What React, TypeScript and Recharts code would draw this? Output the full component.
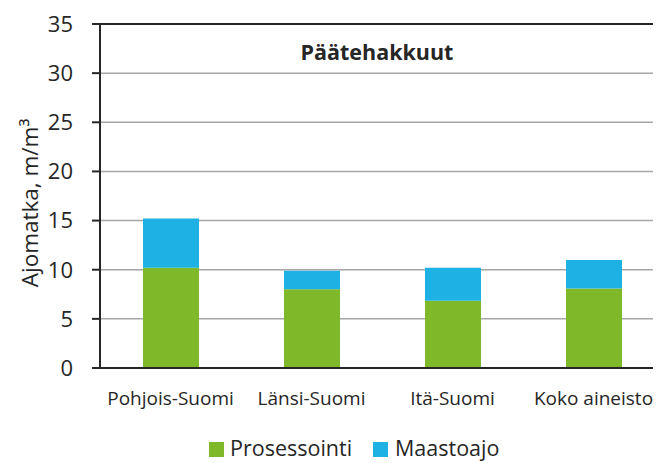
import React from 'react';
import { BarChart, Bar, XAxis, YAxis, CartesianGrid, Legend, ReferenceLine } from 'recharts';

const categories = ['Pohjois-Suomi', 'Länsi-Suomi', 'Itä-Suomi', 'Koko aineisto'];
const prosessointi = [10.2, 8.0, 6.85, 8.1];
const maastoajo = [5.0, 1.9, 3.35, 2.9];
const yTicks = [0, 5, 10, 15, 20, 25, 30, 35];
const title = 'Päätehakkuut';
const yLabel = 'Ajomatka, m/m³';
const seriesNames = ['Prosessointi', 'Maastoajo'];

const GREEN = '#7FB92A';
const BLUE = '#1EB1E3';
const TEXT = '#262626';
const FONT = '"Open Sans", sans-serif';

const data = categories.map((c, i) => ({ name: c, p: prosessointi[i], m: maastoajo[i] }));

const LegendContent = () => (
  <div style={{ position: 'relative', width: 680, height: 36, fontFamily: FONT, fontSize: 21.5, color: TEXT }}>
    <div style={{ position: 'absolute', left: 201, top: 15, width: 15, height: 15, background: GREEN }} />
    <div style={{ position: 'absolute', left: 222, top: 8, lineHeight: '26px', whiteSpace: 'nowrap' }}>{seriesNames[0]}</div>
    <div style={{ position: 'absolute', left: 365, top: 15, width: 15, height: 15, background: BLUE }} />
    <div style={{ position: 'absolute', left: 387, top: 8, lineHeight: '26px', whiteSpace: 'nowrap' }}>{seriesNames[1]}</div>
  </div>
);

const YLabel = (props: any) => {
  const vb = props.viewBox || { x: 0, y: 0, width: 0, height: 0 };
  const cx = 21;
  const cy = vb.y + vb.height / 2 + 7;
  return (
    <text x={cx} y={cy} transform={`rotate(-90, ${cx}, ${cy})`} textAnchor="middle" dominantBaseline="central"
      fill={TEXT} fontSize={22.5} fontFamily={FONT}>{yLabel}</text>
  );
};

const TitleLabel = (props: any) => {
  const vb = props.viewBox || { x: 0, y: 0, width: 0 };
  const cx = vb.x + vb.width / 2 - 5;
  return (
    <text x={cx} y={vb.y + 36} textAnchor="middle" fill={TEXT} fontSize={21.5} fontWeight="bold" fontFamily={FONT}>{title}</text>
  );
};

export default function App() {
  return (
    <div style={{ width: 653, height: 455, overflow: 'hidden' }}>
      <BarChart width={680} height={455} data={data} margin={{ top: 16, right: 24, bottom: 0, left: 0 }} barSize={56}>
        <CartesianGrid vertical={false} stroke="#A6A6A6" strokeWidth={1.5} />
        <XAxis dataKey="name" tickLine={false} tickSize={0} tickMargin={24} height={59}
          axisLine={{ stroke: TEXT, strokeWidth: 2 }}
          tick={{ fill: TEXT, fontSize: 19, fontFamily: FONT }} interval={0} />
        <YAxis domain={[0, 35]} ticks={yTicks} width={92} tickSize={8} tickMargin={19}
          axisLine={{ stroke: TEXT, strokeWidth: 2 }} tickLine={{ stroke: TEXT, strokeWidth: 2 }}
          tick={{ fill: TEXT, fontSize: 22, fontFamily: FONT }} label={<YLabel />} />
        <ReferenceLine y={35} stroke={TEXT} strokeWidth={2} label={<TitleLabel />} />
        <Bar dataKey="p" stackId="a" fill={GREEN} isAnimationActive={false} name={seriesNames[0]} />
        <Bar dataKey="m" stackId="a" fill={BLUE} isAnimationActive={false} name={seriesNames[1]} />
        <Legend verticalAlign="bottom" height={36} content={<LegendContent />} />
      </BarChart>
    </div>
  );
}
